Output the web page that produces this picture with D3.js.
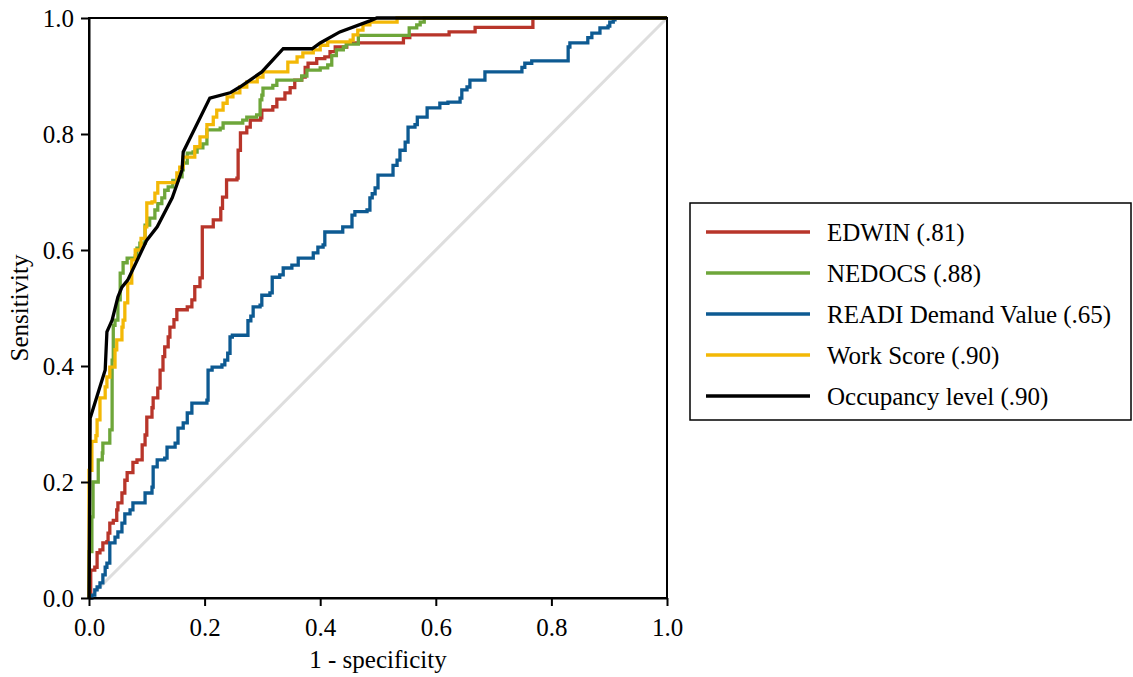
<!DOCTYPE html>
<html>

<head>
    <meta charset="UTF-8">
    <style>
        body { margin: 0; background: #fff; }
        svg { display: block; }
        text { font-family: "Liberation Serif", "Times New Roman", serif; }
    </style>
</head>

<body>
    <svg></svg>
    <script src="https://d3js.org/d3.v7.min.js"></script>

    <script>

        // ROC curves: 1 - specificity (fpr) and sensitivity (tpr)
        let edwinFpr = [0, 0.003, 0.010, 0.014, 0.019, 0.024, 0.031, 0.033, 0.036, 0.042, 0.048, 0.05, 0.057, 0.062, 0.066, 0.074, 0.076, 0.083, 0.092, 0.097, 0.10, 0.109, 0.111, 0.119, 0.123, 0.128, 0.131, 0.137, 0.14, 0.147, 0.152, 0.170, 0.178, 0.183, 0.192, 0.196, 0.215, 0.228, 0.231, 0.238, 0.256, 0.258, 0.262, 0.273, 0.279, 0.297, 0.299, 0.318, 0.325, 0.339, 0.348, 0.356, 0.368, 0.374, 0.379, 0.394, 0.408, 0.417, 0.426, 0.446, 0.543, 0.544, 0.555, 0.621, 0.623, 0.664, 0.668, 0.768, 0.768, 1];
        let edwinTpr = [0, 0.048, 0.053, 0.078, 0.083, 0.095, 0.097, 0.112, 0.129, 0.134, 0.152, 0.164, 0.181, 0.203, 0.216, 0.216, 0.234, 0.238, 0.264, 0.281, 0.312, 0.328, 0.345, 0.362, 0.393, 0.416, 0.433, 0.45, 0.467, 0.48, 0.497, 0.502, 0.514, 0.537, 0.552, 0.64, 0.652, 0.672, 0.691, 0.721, 0.724, 0.772, 0.802, 0.812, 0.824, 0.828, 0.841, 0.847, 0.86, 0.871, 0.88, 0.893, 0.898, 0.915, 0.922, 0.93, 0.933, 0.942, 0.95, 0.957, 0.957, 0.966, 0.971, 0.971, 0.976, 0.976, 0.984, 0.984, 1, 1];

        let nedocsFpr = [0, 0, 0.005, 0.007, 0.016, 0.016, 0.023, 0.024, 0.031, 0.036, 0.040, 0.040, 0.042, 0.045, 0.05, 0.054, 0.059, 0.066, 0.080, 0.083, 0.088, 0.097, 0.105, 0.114, 0.119, 0.126, 0.131, 0.137, 0.145, 0.154, 0.161, 0.163, 0.170, 0.180, 0.187, 0.197, 0.204, 0.227, 0.232, 0.266, 0.273, 0.29, 0.296, 0.299, 0.301, 0.318, 0.325, 0.365, 0.368, 0.377, 0.4, 0.413, 0.42, 0.428, 0.44, 0.445, 0.466, 0.552, 0.554, 0.567, 0.573, 0.58, 1];
        let nedocsTpr = [0, 0.08, 0.14, 0.2, 0.2, 0.238, 0.25, 0.267, 0.267, 0.29, 0.30, 0.41, 0.47, 0.479, 0.514, 0.56, 0.578, 0.586, 0.59, 0.603, 0.612, 0.643, 0.655, 0.669, 0.68, 0.69, 0.703, 0.709, 0.72, 0.726, 0.738, 0.75, 0.767, 0.769, 0.776, 0.783, 0.807, 0.81, 0.819, 0.824, 0.829, 0.833, 0.859, 0.867, 0.879, 0.884, 0.893, 0.893, 0.90, 0.91, 0.914, 0.919, 0.935, 0.945, 0.95, 0.955, 0.97, 0.97, 0.983, 0.988, 0.993, 1, 1];

        let readiFpr = [0, 0.005, 0.01, 0.014, 0.019, 0.024, 0.028, 0.031, 0.036, 0.045, 0.05, 0.057, 0.062, 0.071, 0.076, 0.093, 0.097, 0.109, 0.111, 0.118, 0.131, 0.135, 0.149, 0.154, 0.163, 0.170, 0.178, 0.204, 0.206, 0.213, 0.230, 0.235, 0.24, 0.244, 0.248, 0.273, 0.275, 0.28, 0.284, 0.296, 0.299, 0.313, 0.317, 0.33, 0.336, 0.351, 0.362, 0.386, 0.388, 0.396, 0.405, 0.408, 0.434, 0.439, 0.455, 0.455, 0.46, 0.481, 0.486, 0.49, 0.495, 0.5, 0.524, 0.526, 0.533, 0.538, 0.547, 0.552, 0.552, 0.564, 0.568, 0.581, 0.585, 0.604, 0.607, 0.621, 0.642, 0.645, 0.654, 0.659, 0.681, 0.685, 0.746, 0.749, 0.754, 0.766, 0.827, 0.829, 0.832, 0.862, 0.863, 0.87, 0.884, 0.884, 0.898, 0.901, 0.907, 0.91, 1];
        let readiTpr = [0, 0.005, 0.014, 0.019, 0.026, 0.040, 0.053, 0.060, 0.095, 0.105, 0.114, 0.129, 0.145, 0.152, 0.164, 0.164, 0.181, 0.191, 0.226, 0.238, 0.241, 0.26, 0.267, 0.293, 0.302, 0.319, 0.336, 0.341, 0.393, 0.398, 0.402, 0.41, 0.422, 0.45, 0.453, 0.453, 0.478, 0.486, 0.502, 0.505, 0.522, 0.526, 0.553, 0.557, 0.569, 0.574, 0.586, 0.586, 0.595, 0.605, 0.609, 0.631, 0.631, 0.64, 0.643, 0.66, 0.666, 0.669, 0.69, 0.697, 0.707, 0.729, 0.729, 0.746, 0.755, 0.772, 0.786, 0.795, 0.812, 0.816, 0.829, 0.829, 0.845, 0.845, 0.853, 0.855, 0.862, 0.876, 0.881, 0.893, 0.893, 0.907, 0.907, 0.915, 0.922, 0.926, 0.926, 0.95, 0.957, 0.957, 0.966, 0.974, 0.974, 0.983, 0.986, 0.993, 0.997, 1, 1];

        let workFpr = [0, 0, 0.005, 0.012, 0.014, 0.019, 0.028, 0.031, 0.036, 0.045, 0.048, 0.057, 0.059, 0.062, 0.067, 0.074, 0.08, 0.09, 0.097, 0.10, 0.109, 0.114, 0.119, 0.144, 0.152, 0.157, 0.163, 0.183, 0.192, 0.204, 0.215, 0.221, 0.232, 0.239, 0.249, 0.261, 0.273, 0.291, 0.301, 0.343, 0.344, 0.36, 0.37, 0.388, 0.40, 0.413, 0.452, 0.457, 0.465, 0.474, 0.486, 0.529, 0.533, 1];
        let workTpr = [0, 0.22, 0.27, 0.28, 0.307, 0.345, 0.364, 0.381, 0.398, 0.428, 0.445, 0.467, 0.479, 0.509, 0.543, 0.583, 0.60, 0.62, 0.64, 0.681, 0.683, 0.698, 0.716, 0.716, 0.733, 0.743, 0.76, 0.778, 0.795, 0.816, 0.829, 0.841, 0.853, 0.864, 0.871, 0.881, 0.89, 0.898, 0.907, 0.907, 0.924, 0.933, 0.94, 0.945, 0.953, 0.959, 0.962, 0.971, 0.979, 0.988, 0.993, 0.993, 1, 1];

        // occupancy curve is drawn as straight segments, not steps
        let occFpr = [0, 0.002, 0.028, 0.031, 0.040, 0.050, 0.057, 0.067, 0.100, 0.118, 0.144, 0.161, 0.163, 0.209, 0.244, 0.261, 0.299, 0.336, 0.386, 0.400, 0.434, 0.486, 0.498, 1];
        let occTpr = [0, 0.310, 0.393, 0.459, 0.479, 0.519, 0.536, 0.548, 0.617, 0.640, 0.690, 0.738, 0.769, 0.862, 0.871, 0.881, 0.907, 0.947, 0.947, 0.957, 0.976, 0.995, 1, 1];

        let seriesNames = ["EDWIN (.81)", "NEDOCS (.88)", "READI Demand Value (.65)", "Work Score (.90)", "Occupancy level (.90)"];
        let seriesColors = ["#b8352a", "#6ea63a", "#0d5a92", "#f3b806", "#000000"];
        let xTicks = [0, 0.2, 0.4, 0.6, 0.8, 1.0];
        let yTicks = [0, 0.2, 0.4, 0.6, 0.8, 1.0];

        let width = 1133, height = 677;
        let svg = d3.select("svg").attr("width", width).attr("height", height);

        let plotL = 89, plotR = 667, plotT = 18, plotB = 598;

        let x = d3.scaleLinear().domain([0, 1]).range([plotL, plotR]);
        let y = d3.scaleLinear().domain([0, 1]).range([plotB, plotT]);

        // diagonal reference
        svg.append("line")
            .attr("x1", x(0)).attr("y1", y(0))
            .attr("x2", x(1)).attr("y2", y(1))
            .attr("stroke", "#dedede")
            .attr("stroke-width", 3);

        // frame
        svg.append("rect")
            .attr("x", plotL).attr("y", plotT)
            .attr("width", plotR - plotL).attr("height", plotB - plotT)
            .attr("fill", "none")
            .attr("stroke", "#000")
            .attr("stroke-width", 2);

        let series = [
            [edwinFpr, edwinTpr, d3.curveStepAfter],
            [nedocsFpr, nedocsTpr, d3.curveStepAfter],
            [readiFpr, readiTpr, d3.curveStepAfter],
            [workFpr, workTpr, d3.curveStepAfter],
            [occFpr, occTpr, d3.curveLinear]
        ];

        series.forEach((s, i) => {
            let pts = s[0].map((v, k) => [v, s[1][k]]);
            let line = d3.line()
                .x(d => x(d[0]))
                .y(d => y(d[1]))
                .curve(s[2]);
            svg.append("path")
                .datum(pts)
                .attr("d", line)
                .attr("fill", "none")
                .attr("stroke", seriesColors[i])
                .attr("stroke-width", 3.3)
                .attr("stroke-linejoin", "miter");
        });

        // axes
        let xAxis = d3.axisBottom(x).tickValues(xTicks).tickFormat(d3.format(".1f")).tickSize(8).tickSizeOuter(0);
        let yAxis = d3.axisLeft(y).tickValues(yTicks).tickFormat(d3.format(".1f")).tickSize(8).tickSizeOuter(0);

        let gx = svg.append("g").attr("transform", "translate(0," + plotB + ")").call(xAxis);
        let gy = svg.append("g").attr("transform", "translate(" + plotL + ",0)").call(yAxis);

        [gx, gy].forEach(g => {
            g.select(".domain").attr("stroke", "#000").attr("stroke-width", 2);
            g.selectAll(".tick line").attr("stroke", "#000").attr("stroke-width", 2);
            g.selectAll(".tick text")
                .attr("fill", "#000")
                .style("font-family", "'Liberation Serif', serif")
                .style("font-size", "25px");
        });
        gx.selectAll(".tick text").attr("dy", "0.71em").attr("y", 20);
        gy.selectAll(".tick text").attr("x", -15);

        svg.append("text")
            .attr("x", (plotL + plotR) / 2)
            .attr("y", 668)
            .attr("text-anchor", "middle")
            .style("font-size", "25px")
            .text("1 - specificity");

        svg.append("text")
            .attr("transform", "translate(28," + (plotT + plotB) / 2 + ") rotate(-90)")
            .attr("text-anchor", "middle")
            .style("font-size", "25px")
            .text("Sensitivity");

        // legend
        let legend = svg.append("g");
        legend.append("rect")
            .attr("x", 690).attr("y", 203)
            .attr("width", 441).attr("height", 217)
            .attr("fill", "#fff")
            .attr("stroke", "#000")
            .attr("stroke-width", 1.5);

        let rowY = d3.scalePoint().domain(seriesNames).range([232, 396]);

        seriesNames.forEach((name, i) => {
            legend.append("line")
                .attr("x1", 706).attr("x2", 810)
                .attr("y1", rowY(name)).attr("y2", rowY(name))
                .attr("stroke", seriesColors[i])
                .attr("stroke-width", 3.5);
            legend.append("text")
                .attr("x", 827)
                .attr("y", rowY(name))
                .attr("dy", "0.35em")
                .style("font-size", "25px")
                .text(name);
        });

    </script>

</body>

</html>
